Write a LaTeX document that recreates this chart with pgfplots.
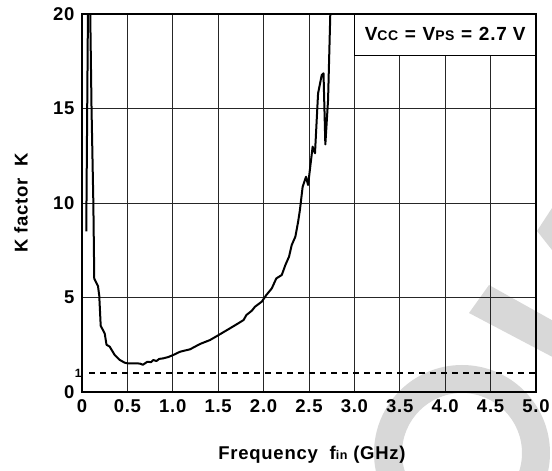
\documentclass[border=0pt]{standalone}
\usepackage{pgfplots}
\pgfplotsset{compat=1.18}
\usepackage{fontspec}
\setmainfont{Liberation Sans}[LetterSpace=4]
\definecolor{wm}{RGB}{216,216,216}
\begin{document}
\begin{tikzpicture}
% light watermark in the background
\begin{scope}
\clip (-82pt,-79pt) rectangle (470pt,392pt);
\fill[wm, even odd rule] (380pt,-61pt) circle (88pt) (380pt,-61pt) circle (60pt);
\fill[wm] (407pt,107pt) -- (387pt,79pt) -- (518pt,10pt) -- (518pt,45pt) -- cycle;
\fill[wm] (455pt,161pt) -- (470pt,184pt) -- (500pt,184pt) -- (500pt,130pt) -- (470pt,142pt) -- cycle;
\end{scope}
\begin{axis}[
  at={(0,0)}, anchor=origin,
  scale only axis, width=454pt, height=378pt,
  xmin=0, xmax=5, ymin=0, ymax=20,
  xtick={0,0.5,1,1.5,2,2.5,3,3.5,4,4.5,5},
  xticklabels={0,0.5,1.0,1.5,2.0,2.5,3.0,3.5,4.0,4.5,5.0},
  ytick={0,5,10,15,20},
  yticklabels={0,5,10,15,20},
  extra y ticks={1},
  extra y tick labels={1},
  extra y tick style={grid=none, tick style={draw=none},
     yticklabel style={font=\fontsize{12}{12}\selectfont\bfseries, xshift=7pt, yshift=0pt}},
  grid=major,
  major grid style={black!85, line width=0.9pt},
  axis line style={line width=1.6pt},
  tick style={draw=none},
  ticklabel style={font=\fontsize{18.5}{18.5}\selectfont\bfseries},
  xticklabel style={yshift=-4pt},
  yticklabel style={xshift=-4pt},
  /pgf/number format/assume math mode=true,
]
\addplot[black, dash pattern=on 6pt off 5pt, line width=1.6pt] coordinates {(0.08,1) (5,1)};
\addplot[black, line width=2pt, line join=round] coordinates {
(0.047,8.5) (0.067,21) (0.088,21) (0.105,15) (0.125,10) (0.135,6.0) (0.176,5.6)
(0.19,5.1) (0.206,3.5) (0.25,3.1) (0.27,2.5) (0.305,2.4) (0.36,1.96) (0.415,1.70)
(0.47,1.55) (0.5,1.52) (0.6,1.52) (0.64,1.50) (0.67,1.44) (0.72,1.60) (0.76,1.58)
(0.785,1.69) (0.82,1.64) (0.85,1.75) (0.895,1.78) (0.95,1.85) (1.006,1.96)
(1.08,2.13) (1.19,2.26) (1.30,2.54) (1.41,2.75) (1.50,3.0) (1.63,3.37) (1.72,3.63)
(1.78,3.81) (1.81,4.07) (1.87,4.3) (1.905,4.51) (1.98,4.78) (2.03,5.13) (2.09,5.48)
(2.14,6.01) (2.2,6.19) (2.24,6.72) (2.28,7.16) (2.31,7.78) (2.35,8.22) (2.38,9.0)
(2.40,9.63) (2.43,10.86) (2.467,11.39) (2.49,10.95) (2.54,12.98) (2.566,12.63)
(2.60,15.8) (2.64,16.77) (2.66,16.86) (2.68,13.1) (2.71,15.45) (2.74,21)
};
\draw[black, line width=1.2pt, fill=white] (axis cs:3,17.8) rectangle (axis cs:5,20);
\node[font=\fontsize{19}{19}\selectfont\bfseries] at (axis cs:4,18.92)
  {V{\fontsize{14}{14}\selectfont CC}\hspace{0.35em}=\hspace{0.35em}V{\fontsize{14}{14}\selectfont PS}\hspace{0.35em}=\hspace{0.35em}2.7 V};
\end{axis}
\node[rotate=90, font=\fontsize{18.5}{18.5}\selectfont\bfseries] at (-61pt,189pt) {K factor\ \ K};
\node[anchor=base, font=\fontsize{18.5}{18.5}\selectfont\bfseries] at (230pt,-68pt)
  {Frequency\ \ f{\fontsize{12.5}{12.5}\selectfont in} (GHz)};
\pgfresetboundingbox
\path[use as bounding box] (-82pt,-79pt) rectangle (470pt,392pt);
\end{tikzpicture}
\end{document}
